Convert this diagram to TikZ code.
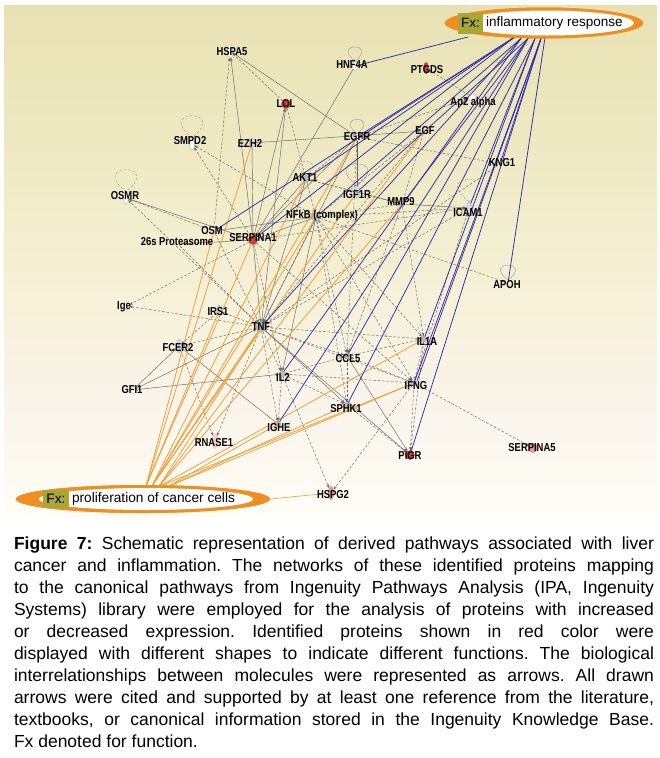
\documentclass[tikz,border=0pt]{standalone}
\usepackage{fontspec}
\setmainfont{Liberation Sans}
\newfontfamily\lblfont[FakeStretch=0.82]{Liberation Sans}
\usetikzlibrary{arrows.meta,shapes.geometric,calc}
\definecolor{gline}{RGB}{100,100,100}
\definecolor{bline}{RGB}{45,45,170}
\definecolor{oline}{RGB}{238,160,60}
\definecolor{fxorange}{RGB}{240,142,32}
\definecolor{fxolive}{RGB}{168,166,52}
\definecolor{redn}{RGB}{215,60,60}
\definecolor{pinkn}{RGB}{236,150,150}
\definecolor{bluen}{RGB}{205,222,236}
\definecolor{bgA}{RGB}{232,225,178}
\definecolor{bgB}{RGB}{235,229,186}
\definecolor{bgC}{RGB}{240,235,198}
\definecolor{bgD}{RGB}{246,241,216}
\definecolor{bgE}{RGB}{250,244,234}
\definecolor{bgF}{RGB}{255,253,246}
\begin{document}
\begin{tikzpicture}[x=1pt,y=-1pt,
 every node/.style={inner sep=0pt, outer sep=0pt},
 lbl/.style={font=\lblfont\bfseries\fontsize{11.5}{11.5}\selectfont, text=black, inner sep=0.5pt},
 icw/.style={ellipse, draw=gray!60, fill=white, line width=0.4pt, minimum width=5pt, minimum height=10pt},
 icb/.style={icw, fill=bluen, draw=bluen!60!gray},
 icg/.style={circle, fill=gray!55, draw=gray!70, minimum size=7pt},
 icr/.style={circle, fill=redn, draw=redn!80!black, line width=0.3pt, minimum size=9pt},
 icp/.style={circle, fill=pinkn, draw=pinkn!80!black, line width=0.3pt, minimum size=9pt},
 icn/.style={circle, minimum size=6pt},
 ge/.style={draw=gline, line width=0.45pt, -{Stealth[length=3.6pt,width=2.6pt]}},
 gd/.style={ge, dash pattern=on 2.6pt off 1.8pt},
 gl/.style={draw=gline, line width=0.45pt},
 be/.style={draw=bline, line width=0.75pt},
 oe/.style={draw=oline, line width=0.8pt},
 lpd/.style={draw=gray!75, line width=0.45pt, dash pattern=on 2.6pt off 1.8pt},
 lps/.style={draw=gray!75, line width=0.45pt}
]
\useasboundingbox (0,0) rectangle (660,758);
\fill[white] (0,0) rectangle (660,758);
% background bands
\fill[top color=bgA, bottom color=bgB] (4,5) rectangle (657,70.5);
\fill[top color=bgB, bottom color=bgC] (4,70) rectangle (657,180.5);
\fill[top color=bgC, bottom color=bgD] (4,180) rectangle (657,300.5);
\fill[top color=bgD, bottom color=bgE] (4,300) rectangle (657,400.5);
\fill[top color=bgE, bottom color=bgF] (4,400) rectangle (657,518);

% icons (molecules)
\node[icw, minimum height=14pt] (hspa5) at (230,51) {};
\node[icw] (hnf4a) at (355,66) {};
\node[ellipse, fill=redn, minimum width=5pt, minimum height=12pt] (ptgds) at (426,68) {};
\node[icr] (lol) at (286,104) {};
\node[circle, fill=white, draw=gray!50, minimum size=8pt] (ap2) at (472,97) {};
\node[icw, minimum height=13pt] (smpd2) at (192,144) {};
\node[icb] (ezh2) at (252,143) {};
\node[icw, minimum size=7pt] (egfr) at (357,137) {};
\node[icn] (egf) at (424,131) {};
\node[icn] (kng1) at (500,164) {};
\node[icg] (akt1) at (306,179) {};
\node[icb, minimum height=13pt] (igf1r) at (357,192) {};
\node[icw, minimum height=13pt] (osmr) at (126,198) {};
\node[icg, minimum size=6pt] (mmp9) at (402,204) {};
\node[icb, minimum height=13pt] (icam1) at (469,208) {};
\node[icg, minimum size=9pt] (nfkb) at (316,217) {};
\node[icn] (osm) at (214,231) {};
\node[icr] (serpa1) at (253,240) {};
\node[icn] (prot) at (178,244) {};
\node[icn] (apoh) at (508,283) {};
\node[icw, minimum height=8pt] (ige) at (127,306) {};
\node[icb, minimum height=12pt] (irs1) at (219,311) {};
\node[icg, minimum size=10pt] (tnf) at (261,327) {};
\node[icb, minimum height=14pt] (fcer2) at (179,346) {};
\node[icg, minimum size=6pt] (il1a) at (424,339) {};
\node[icg, minimum size=6pt] (ccl5) at (347,356) {};
\node[icw, minimum height=8pt] (gfi1) at (133,390) {};
\node[icg, minimum size=6pt] (il2) at (282,374) {};
\node[icg, minimum size=6pt] (ifng) at (414,383) {};
\node[icg, minimum size=6pt] (sphk1) at (347,405) {};
\node[icg, minimum size=6pt] (ighe) at (278,424) {};
\node[ellipse, fill=pinkn!45, draw=pinkn!60, minimum width=6pt, minimum height=15pt] (rnase1) at (215,441) {};
\node[icp] (serpa5) at (533,448) {};
\node[icr] (pigr) at (410,455) {};
\node[ellipse, fill=pinkn, minimum width=6pt, minimum height=14pt] (hspg2) at (331,493) {};

% self loops
\draw[lpd] (smpd2.north) .. controls +(-38,-29) and +(38,-29) .. (smpd2.north);
\draw[lpd] (osmr.north) .. controls +(-38,-29) and +(38,-29) .. (osmr.north);
\draw[lps] (hnf4a.north) .. controls +(-24,-19) and +(24,-19) .. (hnf4a.north);
\draw[lps] (egfr.north) .. controls +(-24,-19) and +(24,-19) .. (egfr.north);
\draw[lpd] (akt1.north) .. controls +(-24,-19) and +(24,-19) .. (akt1.north);
\draw[lps] (igf1r.north) .. controls +(-38,-29) and +(38,-29) .. (igf1r.north);
\draw[lpd] (icam1.north) .. controls +(-40,-30) and +(40,-30) .. (icam1.north);
\draw[lps] (apoh.north) .. controls +(-26,-20) and +(26,-20) .. (apoh.north);
\draw[lpd] (il1a.north) .. controls +(-20,-16) and +(20,-16) .. (il1a.north);

% gray solid
\draw[ge] (egfr) -- (hspa5);
\draw[ge] (serpa1) -- (hspa5);
\draw[gl] (ezh2) -- (serpa1);
\draw[gl] (ezh2) -- (egf);
\draw[ge] (serpa1) -- (lol);
\draw[ge] (tnf) -- (lol);
\draw[ge] (hnf4a) -- (serpa1);
\draw[gl] (prot) -- (serpa1);
\draw[gl] (egfr) -- (igf1r);
\draw[ge] (mmp9) -- (icam1);
\draw[gl] (igf1r) -- (mmp9);
\draw[ge] (akt1) -- (tnf);
\draw[ge] (serpa1) -- (tnf);
\draw[gl] (gfi1) -- (fcer2);
\draw[ge] (gfi1) -- (tnf);
\draw[ge] (gfi1) -- (il2);
\draw[gl] (fcer2) -- (ighe);
\draw[ge] (tnf) -- (pigr);
\draw[ge] (ccl5) -- (pigr);
\draw[ge] (nfkb) -- (serpa1);
\draw[ge] (serpa1) -- (osmr);
\draw[ge] (tnf) -- (sphk1);
\draw[gl] (serpa1) -- (egfr);
\draw[ge] (akt1) -- (serpa1);
\draw[ge] (nfkb) -- (il2);
\draw[ge] (egfr) -- (tnf);
\draw[gl] (nfkb) -- (osm);

% gray dashed
\draw[gd] (lol) -- (hspa5);
\draw[gd] (osm) -- (hspa5);
\draw[gd] (serpa1) -- (smpd2);
\draw[gd] (nfkb) -- (smpd2);
\draw[gd] (osm) -- (osmr);
\draw[gd] (tnf) -- (osmr);
\draw[gd] (lol) -- (akt1);
\draw[gd] (egfr) -- (akt1);
\draw[gd] (akt1) -- (nfkb);
\draw[gd] (egf) -- (nfkb);
\draw[gd] (egf) -- (mmp9);
\draw[gd] (kng1) -- (egfr);
\draw[gd] (egfr) -- (ap2);
\draw[gd] (ap2) -- (ptgds);
\draw[gd] (nfkb) -- (icam1);
\draw[gd] (nfkb) -- (mmp9);
\draw[gd] (serpa1) -- (icam1);
\draw[gd] (nfkb) -- (tnf);
\draw[gd] (tnf) -- (irs1);
\draw[gd] (tnf) -- (ige);
\draw[gd] (serpa1) -- (ige);
\draw[gd] (tnf) -- (fcer2);
\draw[gd] (irs1) -- (fcer2);
\draw[gd] (fcer2) -- (rnase1);
\draw[gd] (tnf) -- (rnase1);
\draw[gd] (tnf) -- (il2);
\draw[gd] (tnf) -- (ighe);
\draw[gd] (il2) -- (ighe);
\draw[gd] (il2) -- (hspg2);
\draw[gd] (tnf) -- (ccl5);
\draw[gd] (tnf) -- (il1a);
\draw[gd] (tnf) -- (ifng);
\draw[gd] (il1a) -- (ifng);
\draw[gd] (il1a) -- (pigr);
\draw[gd] (il1a) -- (ccl5);
\draw[gd] (ifng) -- (pigr);
\draw[gd] (ifng) -- (hspg2);
\draw[gd] (ifng) -- (serpa5);
\draw[gd] (ifng) -- (ccl5);
\draw[gd] (ifng) -- (il2);
\draw[gd] (il2) -- (ccl5);
\draw[gd] (il2) -- (sphk1);
\draw[gd] (ccl5) -- (sphk1);
\draw[gd] (sphk1) -- (pigr);
\draw[gd] (nfkb) -- (ccl5);
\draw[gd] (nfkb) -- (il1a);
\draw[gd] (nfkb) -- (ifng);
\draw[gd] (ifng) -- (icam1);
\draw[gd] (mmp9) -- (ccl5);
\draw[gd] (mmp9) -- (il1a);
\draw[gd] (nfkb) -- (apoh);
\draw[gd] (kng1) -- (tnf);
\draw[gd] (egfr) -- (ccl5);
\draw[gd] (akt1) -- (mmp9);
\draw[gd] (igf1r) -- (akt1);
\draw[gd] (serpa1) -- (il2);
\draw[gd] (serpa1) -- (ifng);
\draw[gd] (nfkb) -- (sphk1);
\draw[gd] (osm) -- (tnf);
\draw[gd] (icam1) -- (tnf);
\draw[gd] (prot) -- (tnf);
\draw[gd] (egf) -- (tnf);

% Fx ellipse nodes (placed early for anchors)
\node[ellipse, fill=fxorange, minimum width=198pt, minimum height=31pt] (infl) at (544,23) {};
\node[ellipse, fill=fxorange, minimum width=254pt, minimum height=28pt] (prolif) at (143,499) {};

% orange edges (proliferation of cancer cells)
\coordinate (o1) at ($(prolif.north)+(3,1)$);
\coordinate (o2) at ($(prolif.north)+(9,1)$);
\coordinate (o3) at ($(prolif.north)+(16,1.5)$);
\coordinate (o4) at ($(prolif.north)+(24,2)$);
\draw[oe] (o1) -- (osm);
\draw[oe] (o1) -- (ezh2);
\draw[oe] (o1) -- (serpa1);
\draw[oe] (o2) -- (akt1);
\draw[oe] (o2) -- (nfkb);
\draw[oe] (o2) -- (egfr);
\draw[oe] (o2) -- (igf1r);
\draw[oe] (o3) -- (egf);
\draw[oe] (o3) -- (mmp9);
\draw[oe] (o1) -- (irs1);
\draw[oe] (o2) -- (tnf);
\draw[oe] (o3) -- (tnf);
\draw[oe] (o3) -- (il1a);
\draw[oe] (o4) -- (ifng);
\draw[oe] (o3) -- (ifng);
\draw[oe] (o4) -- (sphk1);
\draw[oe] (o4) -- (ighe);
\draw[oe, line width=0.6pt] (prolif.east) -- (hspg2);

% blue edges (inflammatory response)
\coordinate (b0) at (468,37);
\coordinate (b1) at ($(infl.south)+(-30,-1)$);
\coordinate (b2) at ($(infl.south)+(-23,0)$);
\coordinate (b3) at ($(infl.south)+(-16,0)$);
\coordinate (b4) at ($(infl.south)+(-9,0)$);
\coordinate (b5) at ($(infl.south)+(-3,0)$);
\coordinate (b6) at ($(infl.south)+(1,-1)$);
\draw[be] (b0) -- (hnf4a);
\draw[be] (b1) -- (egfr);
\draw[be] (b1) -- (akt1);
\draw[be] (b1) -- (osm);
\draw[be] (b1) -- (serpa1);
\draw[be] (b2) -- (tnf);
\draw[be] (b2) -- (nfkb);
\draw[be] (b2) -- (il2);
\draw[be] (b3) -- (igf1r);
\draw[be] (b3) -- (ighe);
\draw[be] (b3) -- (mmp9);
\draw[be] (b3) -- (ccl5);
\draw[be] (b4) -- (sphk1);
\draw[be] (b4) -- (icam1);
\draw[be] (b4) -- (il1a);
\draw[be] (b5) -- (ifng);
\draw[be] (b5) -- ($(ifng)+(3,-2)$);
\draw[be] (b5) -- (kng1);
\draw[be] (b5) -- (pigr);
\draw[be] (b6) -- (apoh);

% Fx ellipses on top
\node[ellipse, fill=fxorange, minimum width=198pt, minimum height=31pt] (inflo) at (544,23) {};
\node[ellipse, fill=white, minimum width=174pt, minimum height=25pt] (inflw) at (547,23) {};
\node[fill=fxolive, minimum width=25pt, minimum height=21pt, font=\fontsize{13.5}{13.5}\selectfont] (inflfx) at (470.5,23) {Fx:};
\node[anchor=west, font=\fontsize{13.5}{13.5}\selectfont] (infltxt) at (486,23) {inflammatory response};

\node[ellipse, fill=fxorange, minimum width=254pt, minimum height=28pt] (prolifo) at (143,499) {};
\node[ellipse, fill=white, minimum width=214pt, minimum height=22pt] (prolifw) at (146,499) {};
\node[fill=fxolive, minimum width=26pt, minimum height=18pt, font=\fontsize{13.7}{13.7}\selectfont] (prolfx) at (56,499) {Fx:};
\node[anchor=west, font=\fontsize{13.7}{13.7}\selectfont] (proltxt) at (72,499) {proliferation of cancer cells};

% labels
\node[lbl] (hspa5L) at (232,52) {HSPA5};
\node[lbl] (hnf4aL) at (352,65) {HNF4A};
\node[lbl] (ptgdsL) at (427,70) {PTGDS};
\node[lbl] (lolL) at (286,104) {LOL};
\node[lbl] (ap2L) at (473,103) {Ap2 alpha};
\node[lbl] (smpd2L) at (190,141) {SMPD2};
\node[lbl] (ezh2L) at (250,143) {EZH2};
\node[lbl] (egfrL) at (357,137) {EGFR};
\node[lbl] (egfL) at (425,131) {EGF};
\node[lbl] (kng1L) at (502,163) {KNG1};
\node[lbl] (akt1L) at (305,178) {AKT1};
\node[lbl] (igf1rL) at (357,195) {IGF1R};
\node[lbl] (osmrL) at (125,196) {OSMR};
\node[lbl] (mmp9L) at (401,202) {MMP9};
\node[lbl] (icam1L) at (468,213) {ICAM1};
\node[lbl] (nfkbL) at (322,216) {NFkB (complex)};
\node[lbl] (osmL) at (212,231) {OSM};
\node[lbl] (serpa1L) at (253,238) {SERPINA1};
\node[lbl] (protL) at (177,242) {26s Proteasome};
\node[lbl] (apohL) at (507,285) {APOH};
\node[lbl] (igeL) at (124,307) {Ige};
\node[lbl] (irs1L) at (218,312) {IRS1};
\node[lbl] (tnfL) at (261,327) {TNF};
\node[lbl] (fcer2L) at (178,348) {FCER2};
\node[lbl] (il1aL) at (427,342) {IL1A};
\node[lbl] (ccl5L) at (348,359) {CCL5};
\node[lbl] (gfi1L) at (132,390) {GFI1};
\node[lbl] (il2L) at (283,377) {IL2};
\node[lbl] (ifngL) at (416,386) {IFNG};
\node[lbl] (sphk1L) at (346,409) {SPHK1};
\node[lbl] (igheL) at (279,428) {IGHE};
\node[lbl] (rnase1L) at (214,443) {RNASE1};
\node[lbl] (serpa5L) at (532,448) {SERPINA5};
\node[lbl] (pigrL) at (410,456) {PIGR};
\node[lbl] (hspg2L) at (333,495) {HSPG2};

% caption
\node[anchor=north west, text width=640pt, align=justify, font=\fontsize{17.5}{22}\selectfont] (cap) at (14,537)
{\frenchspacing\textbf{Figure 7:} Schematic representation of derived pathways associated with liver\linebreak
cancer and inflammation. The networks of these identified proteins mapping\linebreak
to the canonical pathways from Ingenuity Pathways Analysis (IPA, Ingenuity\linebreak
Systems) library were employed for the analysis of proteins with increased\linebreak
or decreased expression. Identified proteins shown in red color were\linebreak
displayed with different shapes to indicate different functions. The biological\linebreak
interrelationships between molecules were represented as arrows. All drawn\linebreak
arrows were cited and supported by at least one reference from the literature,\linebreak
textbooks, or canonical information stored in the Ingenuity Knowledge Base.\linebreak
Fx denoted for function.};
\end{tikzpicture}
\end{document}
